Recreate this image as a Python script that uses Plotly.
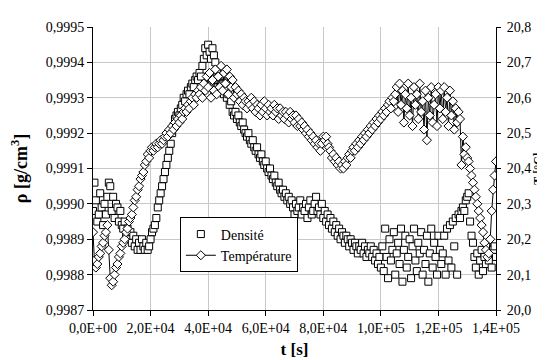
import plotly.graph_objects as go

# sampling interval of the logger (s)
T_STEP = 500

# density, g/cm3 (one reading every 500 s, from t = 0)
density = [
    # 0 - 10 ks
    0.99898, 0.99906, 0.99901, 0.99895, 0.99897, 0.99903, 0.99899, 0.99894, 0.99900, 0.99897,
    0.99902, 0.99906, 0.99905, 0.99898, 0.99902, 0.99896, 0.99900, 0.99899, 0.99895, 0.99898,
    0.99894,
    # 10.5 - 21 ks
    0.99893, 0.99895, 0.99891, 0.99893, 0.99890, 0.99892, 0.99889, 0.99891, 0.99888, 0.99890,
    0.99887, 0.99889, 0.99887, 0.99890, 0.99888, 0.99887, 0.99889, 0.99887, 0.99888, 0.99890,
    0.99892, 0.99893,
    # 21.5 - 42 ks
    0.99894, 0.99896, 0.99899, 0.99901, 0.99903, 0.99905, 0.99907, 0.99909, 0.99911, 0.99913,
    0.99915, 0.99917, 0.99920, 0.99922, 0.99924, 0.99925, 0.99926, 0.99925, 0.99927, 0.99928,
    0.99930, 0.99929, 0.99931, 0.99932, 0.99931, 0.99933, 0.99934, 0.99933, 0.99935, 0.99936,
    0.99935, 0.99937, 0.99936, 0.99939, 0.99941, 0.99944, 0.99942, 0.99945, 0.99943, 0.99941,
    0.99944, 0.99942,
    # 42.5 - 100 ks
    0.99940, 0.99937, 0.99935, 0.99936, 0.99933, 0.99934, 0.99931, 0.99932, 0.99930, 0.99931,
    0.99928, 0.99929, 0.99926, 0.99925, 0.99926, 0.99924, 0.99925, 0.99923, 0.99922, 0.99923,
    0.99921, 0.99920, 0.99919, 0.99920, 0.99918, 0.99917, 0.99918, 0.99916, 0.99915, 0.99916,
    0.99914, 0.99913, 0.99914, 0.99912, 0.99911, 0.99912, 0.99910, 0.99909, 0.99910, 0.99908,
    0.99907, 0.99908, 0.99906, 0.99905, 0.99906, 0.99904, 0.99903, 0.99904, 0.99902, 0.99903,
    0.99901, 0.99902, 0.99900, 0.99901, 0.99899, 0.99897, 0.99900, 0.99898, 0.99899, 0.99901,
    0.99897, 0.99899, 0.99898, 0.99900, 0.99896, 0.99899, 0.99901, 0.99897, 0.99898, 0.99900,
    0.99902, 0.99898, 0.99899, 0.99897, 0.99900, 0.99896, 0.99898, 0.99895, 0.99897, 0.99894,
    0.99896, 0.99893, 0.99895, 0.99892, 0.99894, 0.99891, 0.99893, 0.99890, 0.99892, 0.99891,
    0.99889, 0.99891, 0.99890, 0.99888, 0.99890, 0.99889, 0.99887, 0.99889, 0.99888, 0.99886,
    0.99888, 0.99887, 0.99889, 0.99886, 0.99888, 0.99885, 0.99887, 0.99886, 0.99888, 0.99885,
    0.99887, 0.99884, 0.99886, 0.99883, 0.99885, 0.99882,
    # 100.5 - 121 ks
    0.99888, 0.99881, 0.99893, 0.99885, 0.99879, 0.99890, 0.99884, 0.99887, 0.99892, 0.99880,
    0.99886, 0.99889, 0.99883, 0.99893, 0.99878, 0.99887, 0.99891, 0.99882, 0.99885, 0.99890,
    0.99879, 0.99888, 0.99893, 0.99884, 0.99881, 0.99889, 0.99886, 0.99892, 0.99880, 0.99887,
    0.99883, 0.99891, 0.99878, 0.99886, 0.99893, 0.99882, 0.99889, 0.99885, 0.99880, 0.99891,
    0.99887, 0.99883,
    # 121.5 - 130.5 ks
    0.99886, 0.99891, 0.99880, 0.99893, 0.99884, 0.99894, 0.99882, 0.99895, 0.99888, 0.99896,
    0.99880, 0.99897, 0.99896, 0.99898, 0.99899, 0.99898, 0.99901, 0.99902, 0.99903,
    # 131 - 140 ks
    0.99895, 0.99891, 0.99889, 0.99885, 0.99882, 0.99886, 0.99880, 0.99884, 0.99887, 0.99881,
    0.99885, 0.99883, 0.99888, 0.99884, 0.99886, 0.99882, 0.99887, 0.99888, 0.99885,
]

# temperature, °C (same sampling)
temperature = [
    # 0 - 7.5 ks
    20.22, 20.14, 20.12, 20.13, 20.15, 20.16, 20.18, 20.19, 20.21, 20.22,
    20.24, 20.17, 20.09, 20.07, 20.08, 20.10,
    # 8 - 39 ks
    20.12, 20.13, 20.15, 20.16, 20.18, 20.19, 20.20, 20.22, 20.23, 20.25,
    20.26, 20.27, 20.29, 20.31, 20.32, 20.34, 20.35, 20.37, 20.38, 20.39,
    20.41, 20.42, 20.44, 20.43, 20.45, 20.46, 20.45, 20.46, 20.47, 20.46,
    20.47, 20.48, 20.47, 20.48, 20.49, 20.50, 20.49, 20.51, 20.50, 20.52,
    20.51, 20.53, 20.52, 20.54, 20.53, 20.55, 20.54, 20.56, 20.57, 20.56,
    20.58, 20.57, 20.59, 20.60, 20.58, 20.61, 20.60, 20.62, 20.61, 20.63,
    20.60, 20.64, 20.62,
    # 39.5 - 55 ks
    20.66, 20.63, 20.67, 20.60, 20.65, 20.62, 20.68, 20.61, 20.66, 20.63,
    20.69, 20.62, 20.67, 20.64, 20.68, 20.61, 20.66, 20.63, 20.65, 20.60,
    20.63, 20.61, 20.62, 20.59, 20.61, 20.58, 20.60, 20.59, 20.57, 20.59,
    20.58, 20.60,
    # 55.5 - 72 ks
    20.57, 20.59, 20.56, 20.58, 20.57, 20.55, 20.58, 20.56, 20.59, 20.57,
    20.55, 20.58, 20.56, 20.57, 20.55, 20.58, 20.56, 20.57, 20.54, 20.57,
    20.55, 20.56, 20.54, 20.56, 20.55, 20.53, 20.56, 20.54, 20.55, 20.53,
    20.55, 20.52, 20.54, 20.52,
    # 72.5 - 87 ks
    20.53, 20.51, 20.52, 20.50, 20.51, 20.49, 20.50, 20.48, 20.49, 20.47,
    20.48, 20.46, 20.47, 20.45, 20.47, 20.49, 20.48, 20.49, 20.47, 20.46,
    20.45, 20.43, 20.44, 20.42, 20.43, 20.41, 20.42, 20.40, 20.41, 20.40,
    # 87.5 - 105 ks
    20.42, 20.41, 20.43, 20.44, 20.43, 20.45, 20.46, 20.45, 20.47, 20.46,
    20.48, 20.47, 20.49, 20.48, 20.50, 20.49, 20.51, 20.50, 20.52, 20.51,
    20.53, 20.52, 20.54, 20.53, 20.55, 20.54, 20.56, 20.55, 20.57, 20.56,
    20.58, 20.59, 20.57, 20.60, 20.59, 20.61,
    # 105.5 - 127 ks
    20.63, 20.56, 20.64, 20.58, 20.62, 20.53, 20.61, 20.57, 20.64, 20.55,
    20.60, 20.52, 20.63, 20.58, 20.61, 20.54, 20.64, 20.56, 20.59, 20.51,
    20.62, 20.48, 20.60, 20.55, 20.63, 20.53, 20.58, 20.61, 20.52, 20.63,
    20.57, 20.62, 20.54, 20.63, 20.56, 20.60, 20.52, 20.62, 20.55, 20.59,
    20.51, 20.57, 20.53, 20.56,
    # 127.5 - 140 ks
    20.54, 20.41, 20.49, 20.44, 20.46, 20.43, 20.42, 20.40, 20.38, 20.36,
    20.34, 20.32, 20.30, 20.28, 20.26, 20.24, 20.22, 20.19, 20.17, 20.15,
    20.16, 20.20, 20.28, 20.34, 20.38, 20.42,
]

x_tickvals = [0, 20000, 40000, 60000, 80000, 100000, 120000, 140000]
x_ticktext = ["0,0E+00", "2,0E+04", "4,0E+04", "6,0E+04", "8,0E+04",
              "1,0E+05", "1,2E+05", "1,4E+05"]

t_rho = [i * T_STEP for i in range(len(density))]
t_temp = [i * T_STEP for i in range(len(temperature))]

FONT = "Liberation Serif"

fig = go.Figure()

fig.add_trace(go.Scatter(
    x=t_rho, y=density, name="Densité", mode="markers",
    marker=dict(symbol="square", size=7, color="white",
                line=dict(color="black", width=1)),
))

fig.add_trace(go.Scatter(
    x=t_temp, y=temperature, name="Température", mode="lines+markers",
    yaxis="y2",
    line=dict(color="black", width=1),
    marker=dict(symbol="diamond", size=7, color="white",
                line=dict(color="black", width=1)),
))

axis_common = dict(
    showline=True, linecolor="black", linewidth=1,
    ticks="outside", ticklen=5, tickcolor="black",
    tickfont=dict(family=FONT, size=14, color="black"),
    zeroline=False,
)

fig.update_layout(
    width=545, height=360,
    margin=dict(l=80, r=52, t=18, b=58),
    paper_bgcolor="white", plot_bgcolor="white",
    separators=", ",
    font=dict(family=FONT, color="black"),
    showlegend=True,
    legend=dict(
        x=0.2155, y=0.327, xanchor="left", yanchor="top",
        bgcolor="white", bordercolor="black", borderwidth=1,
        font=dict(family=FONT, size=14, color="black"),
        tracegroupgap=0,
    ),
    xaxis=dict(
        range=[0, 140000], tickvals=x_tickvals, ticktext=x_ticktext,
        showgrid=True, gridcolor="#c8c8c8", gridwidth=1,
        title=dict(text="<b>t [s]</b>", font=dict(family=FONT, size=17), standoff=8),
        **axis_common,
    ),
    yaxis=dict(
        range=[0.9987, 0.9995], tick0=0.9987, dtick=0.0001, tickformat=".4f",
        showgrid=True, gridcolor="#c8c8c8", gridwidth=1,
        title=dict(text="<b>ρ [g/cm<sup>3</sup>]</b>", font=dict(family=FONT, size=18), standoff=13),
        **axis_common,
    ),
    yaxis2=dict(
        range=[20.0, 20.8], tick0=20.0, dtick=0.1, tickformat=".1f",
        overlaying="y", side="right", showgrid=False,
        ticklabelstandoff=3,
        title=dict(text="<b>T [°C]</b>", font=dict(family=FONT, size=12), standoff=1),
        **{**axis_common, "ticklen": 4},
    ),
)

fig.write_html("out.html")
